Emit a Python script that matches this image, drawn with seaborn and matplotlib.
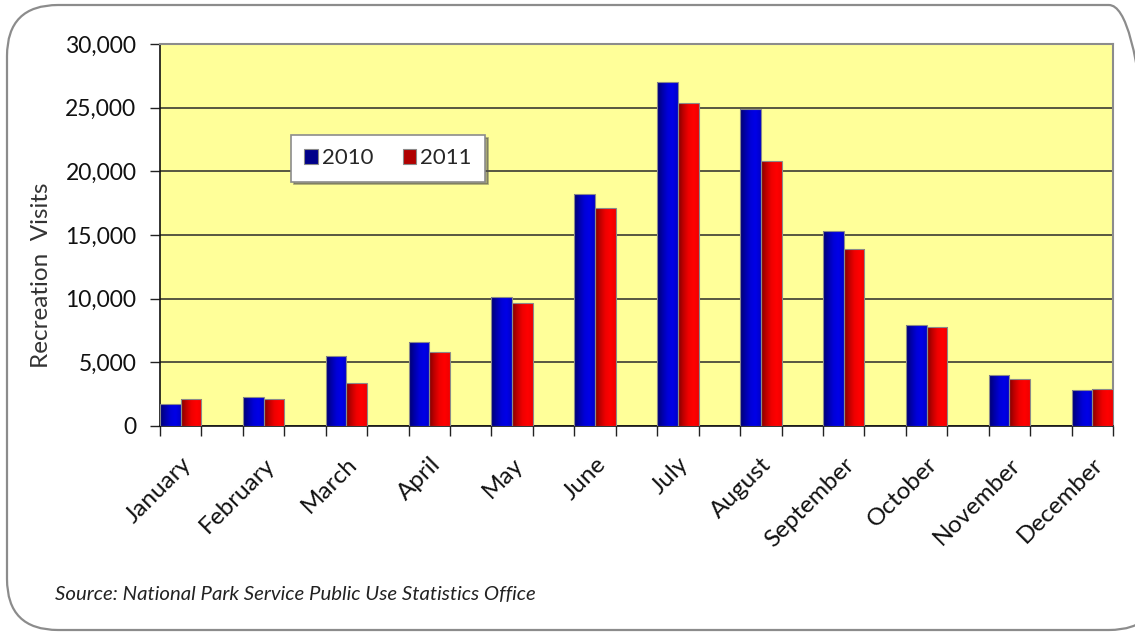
import numpy as np
import pandas as pd
import matplotlib
matplotlib.use("Agg")
import matplotlib.pyplot as plt
import seaborn as sns
from matplotlib.patches import FancyBboxPatch
from matplotlib.colors import LinearSegmentedColormap
from matplotlib.ticker import FuncFormatter, FixedLocator

months = ["January", "February", "March", "April", "May", "June", "July",
          "August", "September", "October", "November", "December"]
visits_2010 = [1750, 2300, 5500, 6600, 10150, 18200, 27000, 24900, 15300, 7950, 4000, 2800]
visits_2011 = [2100, 2100, 3400, 5800, 9650, 17100, 25400, 20850, 13900, 7750, 3700, 2900]
years = ["2010", "2011"]
yticks = [0, 5000, 10000, 15000, 20000, 25000, 30000]
source_text = "Source: National Park Service Public Use Statistics Office"
ylabel_text = "Recreation  Visits"

df = pd.DataFrame({
    "month": months * 2,
    "year": [years[0]] * 12 + [years[1]] * 12,
    "visits": visits_2010 + visits_2011,
})

sns.set_theme(style="white")
plt.rcParams["font.family"] = ["Lato", "DejaVu Sans"]

W, H = 1135, 634
fig = plt.figure(figsize=(W / 100, H / 100), dpi=100)
fig.patch.set_facecolor("white")

frame = FancyBboxPatch((7 / W, 4 / H), (1160 - 7) / W, (629 - 4) / H,
                       boxstyle="round,pad=0,rounding_size=0.045",
                       transform=fig.transFigure, facecolor="none",
                       edgecolor="#8c8c8c", lw=1.6, mutation_aspect=W / H)
fig.patches.append(frame)

ax = fig.add_axes([160 / W, (H - 426) / H, (1113 - 160) / W, (426 - 44) / H])
ax.set_facecolor("#FFFF99")

palette = {"2010": "#0000B0", "2011": "#D00000"}
sns.barplot(data=df, x="month", y="visits", hue="year", order=months,
            hue_order=years, palette=palette, width=0.5, dodge=True,
            edgecolor="#8a8a8a", linewidth=0.8, saturation=1, ax=ax,
            zorder=3, legend=True)

# gradient fills clipped to each bar
cmaps = {
    "2010": LinearSegmentedColormap.from_list("b", ["#000070", "#0000A8", "#0000D8", "#0000E8", "#0000C8"]),
    "2011": LinearSegmentedColormap.from_list("r", ["#800000", "#C00000", "#F00000", "#FF0000", "#F00000"]),
}
grad = np.linspace(0, 1, 64).reshape(1, -1)
bars = list(ax.patches)[:24]
for i, p in enumerate(bars):
    yr = years[0] if i < 12 else years[1]
    x0, w, h = p.get_x(), p.get_width(), p.get_height()
    im = ax.imshow(grad, cmap=cmaps[yr], extent=(x0, x0 + w, 0, h),
                   aspect="auto", zorder=3.5, interpolation="bicubic")
    im.set_clip_path(p)
    p.set_zorder(4)
    p.set_facecolor("none")

ax.set_xlim(-0.25, 11.25)
ax.set_ylim(0, 30000)
ax.set_yticks(yticks)
ax.yaxis.set_major_formatter(FuncFormatter(lambda v, _: f"{int(v):,}"))
ax.grid(axis="y", color="#2a2a2a", lw=1.1, zorder=1)
ax.grid(axis="x", visible=False)
ax.set_axisbelow(True)

ax.set_xticks(range(12))
ax.set_xticklabels(months, rotation=45, ha="right", rotation_mode="anchor",
                   fontsize=17.5, color="#111111")
ax.tick_params(axis="x", which="major", length=0, pad=20)
minor = sorted([i - 0.25 for i in range(12)] + [i + 0.25 for i in range(12)])
ax.xaxis.set_minor_locator(FixedLocator(minor))
ax.tick_params(axis="x", which="minor", length=7, width=1, color="#222222",
               direction="out", bottom=True)
ax.tick_params(axis="y", which="major", length=7, width=1, color="#222222",
               direction="out", left=True, labelsize=16.5, labelcolor="#111111", pad=10)

for s in ["left", "bottom"]:
    ax.spines[s].set_color("#111111")
    ax.spines[s].set_linewidth(1.2)
for s in ["top", "right"]:
    ax.spines[s].set_color("#8c8c8c")
    ax.spines[s].set_linewidth(1.5)

ax.set_xlabel("")
ax.set_ylabel(ylabel_text, fontsize=17.5, color="#333333")
ax.yaxis.set_label_coords((52 - 160) / 953, (426 - 275) / 382)

leg = ax.legend(loc="upper left", bbox_to_anchor=((291 - 160) / 953, (426 - 135) / 382),
                ncol=2, frameon=True, fancybox=False, shadow=True,
                fontsize=16, handlelength=0.6, handleheight=0.7,
                handletextpad=0.2, columnspacing=1.3, borderpad=0.6,
                borderaxespad=0)
leg.get_frame().set_edgecolor("#8c8c8c")
leg.get_frame().set_linewidth(1.2)
leg.get_frame().set_facecolor("white")
leg.get_frame().set_alpha(1)
for hnd in leg.legend_handles:
    hnd.set_edgecolor("#8a8a8a")
leg.legend_handles[0].set_facecolor("#00008a")
leg.legend_handles[1].set_facecolor("#b00000")
leg.set_zorder(10)

fig.text(55 / W, (H - 595) / H, source_text, fontsize=14.7, style="italic",
         color="#222222", va="center", ha="left")

fig.savefig("out.png", dpi=100)
